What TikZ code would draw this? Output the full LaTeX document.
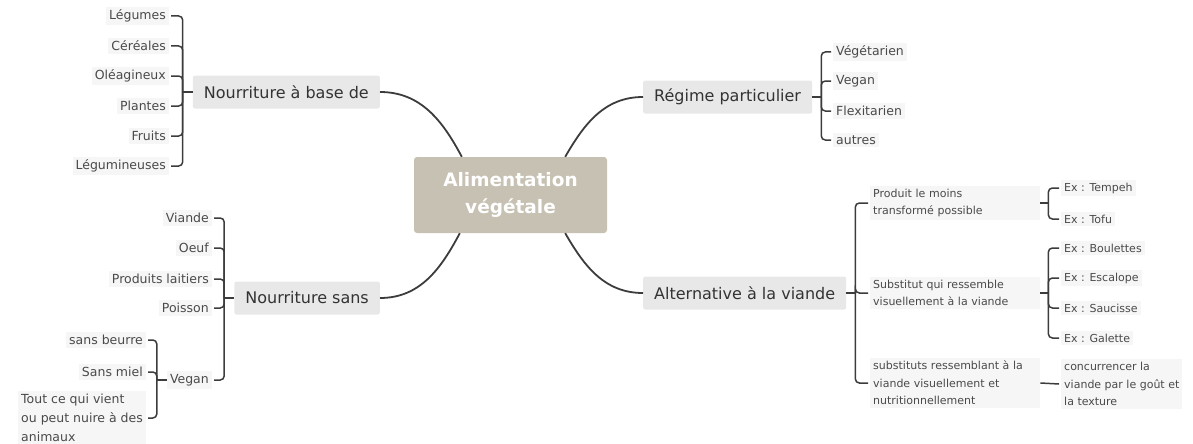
\documentclass[tikz,border=0pt]{standalone}
\usepackage{fontspec}
\setmainfont{DejaVu Sans}
\definecolor{linec}{HTML}{3C3C3C}
\definecolor{rootfill}{HTML}{C6C1B2}
\definecolor{mainfill}{HTML}{E8E8E8}
\definecolor{leaffill}{HTML}{F6F6F6}
\definecolor{maintext}{HTML}{333333}
\definecolor{leaftext}{HTML}{4A4A4A}
\begin{document}
\begin{tikzpicture}[x=1pt,y=-1pt,
  rootbox/.style={fill=rootfill, rounded corners=3pt, text=white,
    font=\fontsize{18.5}{27}\selectfont\bfseries, align=center,
    minimum width=193pt, minimum height=76pt},
  mainbox/.style={fill=mainfill, rounded corners=2pt, text=maintext,
    font=\fontsize{16}{19}\selectfont, inner xsep=11pt, minimum height=33pt},
  leaf/.style={fill=leaffill, text=leaftext,
    font=\fontsize{12.5}{19}\selectfont, inner sep=3pt},
  note/.style={fill=leaffill, text=leaftext,
    font=\fontsize{11}{17.5}\selectfont, inner sep=3pt, align=left},
  branch/.style={draw=linec, line width=1.8pt},
  brk/.style={draw=linec, line width=1.5pt, rounded corners=4pt},
  stub/.style={draw=linec, line width=1.5pt},
]
\useasboundingbox (0,0) rectangle (1193,444);

% centre
\node[rootbox] (root) at (510.5,195) {Alimentation\\végétale};

% main topics
\node[mainbox, anchor=east] (base) at (380,92) {Nourriture à base de};
\node[mainbox, anchor=west] (regime) at (643,97) {Régime particulier};
\node[mainbox, anchor=east] (sans) at (380,298) {Nourriture sans};
\node[mainbox, anchor=west] (alt) at (643,293) {Alternative à la viande};

\draw[branch] (base.east) to[out=0,in=118] ([xshift=48pt]root.north west);
\draw[branch] (regime.west) to[out=180,in=60] ([xshift=-42pt]root.north east);
\draw[branch] (sans.east) to[out=0,in=-118] ([xshift=46pt]root.south west);
\draw[branch] (alt.west) to[out=180,in=-60] ([xshift=-42pt]root.south east);

% Nourriture à base de
\node[leaf, anchor=east] (b1) at (169,16) {Légumes};
\node[leaf, anchor=east] (b2) at (169,46) {Céréales};
\node[leaf, anchor=east] (b3) at (169,76) {Oléagineux};
\node[leaf, anchor=east] (b4) at (169,106) {Plantes};
\node[leaf, anchor=east] (b5) at (169,136) {Fruits};
\node[leaf, anchor=east] (b6) at (169,166) {Légumineuses};
\coordinate (kb) at ([xshift=-10pt]base.west);
\draw[stub] (base.west) -- (kb);
\foreach \n in {b1,b2,b3,b4,b5,b6}
  \draw[brk] (kb) |- ([xshift=2pt]\n.east);

% Régime particulier
\node[leaf, anchor=west] (r1) at (833,52) {Végétarien};
\node[leaf, anchor=west] (r2) at (833,81) {Vegan};
\node[leaf, anchor=west] (r3) at (833,111) {Flexitarien};
\node[leaf, anchor=west] (r4) at (833,140) {autres};
\coordinate (kr) at ([xshift=9pt]regime.east);
\draw[stub] (regime.east) -- (kr);
\foreach \n in {r1,r2,r3,r4}
  \draw[brk] (kr) |- ([xshift=-2pt]\n.west);

% Nourriture sans
\node[leaf, anchor=east] (s1) at (212,218) {Viande};
\node[leaf, anchor=east] (s2) at (212,248) {Oeuf};
\node[leaf, anchor=east] (s3) at (212,279) {Produits laitiers};
\node[leaf, anchor=east] (s4) at (212,308) {Poisson};
\node[leaf, anchor=east] (s5) at (212,380) {Vegan};
\coordinate (ks) at ([xshift=-10pt]sans.west);
\draw[stub] (sans.west) -- (ks);
\foreach \n in {s1,s2,s3,s4,s5}
  \draw[brk] (ks) |- ([xshift=2pt]\n.east);

\node[leaf, anchor=east] (v1) at (146,340) {sans beurre};
\node[leaf, anchor=east] (v2) at (146,372) {Sans miel};
\node[leaf, anchor=east, align=left] (v3) at (146,418)
  {Tout ce qui vient\\ou peut nuire à des\\animaux};
\coordinate (kv) at ([xshift=-10pt]s5.west);
\draw[stub] (s5.west) -- (kv);
\foreach \n in {v1,v2,v3}
  \draw[brk] (kv) |- ([xshift=2pt]\n.east);

% Alternative à la viande
\node[note, anchor=west, text width=164pt] (a1) at (870,203)
  {Produit le moins\\transformé possible};
\node[note, anchor=west, text width=164pt] (a2) at (870,293)
  {Substitut qui ressemble\\visuellement à la viande};
\node[note, anchor=west, text width=164pt] (a3) at (870,383)
  {substituts ressemblant à la\\viande visuellement et\\nutritionnellement};
\coordinate (ka) at ([xshift=9pt]alt.east);
\draw[stub] (alt.east) -- (ka);
\foreach \n in {a1,a2,a3}
  \draw[brk] (ka) |- ([xshift=-2pt]\n.west);

\node[note, anchor=west] (e1) at (1061,188) {Ex : Tempeh};
\node[note, anchor=west] (e2) at (1061,219) {Ex : Tofu};
\coordinate (k1) at ([xshift=8pt]a1.east);
\draw[stub] (a1.east) -- (k1);
\foreach \n in {e1,e2}
  \draw[brk] (k1) |- ([xshift=-2pt]\n.west);

\node[note, anchor=west] (e3) at (1061,248) {Ex : Boulettes};
\node[note, anchor=west] (e4) at (1061,278) {Ex : Escalope};
\node[note, anchor=west] (e5) at (1061,308) {Ex : Saucisse};
\node[note, anchor=west] (e6) at (1061,338) {Ex : Galette};
\coordinate (k2) at ([xshift=8pt]a2.east);
\draw[stub] (a2.east) -- (k2);
\foreach \n in {e3,e4,e5,e6}
  \draw[brk] (k2) |- ([xshift=-2pt]\n.west);

\node[note, anchor=west] (c1) at (1061,384)
  {concurrencer la\\viande par le goût et\\la texture};
\draw[stub] (a3.east) -- ([xshift=-2pt]c1.west);
\end{tikzpicture}
\end{document}
